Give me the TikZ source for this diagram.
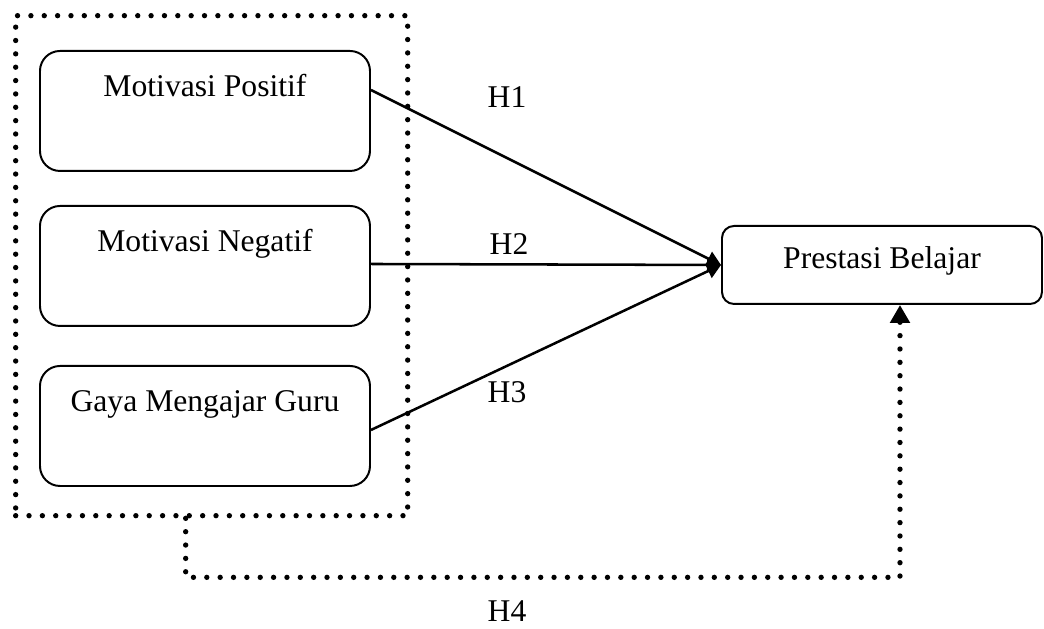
\documentclass[tikz,border=0pt]{standalone}
\usepackage{fontspec}
\setmainfont{Liberation Serif}
\usetikzlibrary{arrows.meta}

\begin{document}
\begin{tikzpicture}[every node/.style={font=\fontsize{22.5pt}{27pt}\selectfont, inner sep=0pt},
    var/.style={draw, line width=1.4pt, rounded corners=0.5cm, anchor=north west, minimum width=8.25cm, text height=1.15cm, text depth=1.85cm},
    conn/.style={line width=1.8pt, -{Triangle[length=0.35cm, width=0.38cm]}},
    dots/.style={line width=3.8pt, line cap=round, dash pattern=on 0pt off 9.5pt}]
      \useasboundingbox (0, 0) rectangle (26.1, 15.7);
      \node[draw, dots, anchor=north west, minimum width=9.8cm, minimum height=12.5cm] (grp) at (0.325, 15.375) {};
      \node[var] (mp) at (0.975, 14.45) {Motivasi Positif};
      \node[var] (mn) at (0.975, 10.575) {Motivasi Negatif};
      \node[var] (gm) at (0.975, 6.575) {Gaya Mengajar Guru};
      \node[draw, line width=1.4pt, rounded corners=0.3cm, anchor=north west, minimum width=8cm, text height=1.075cm, text depth=0.875cm] (pb) at (18.025, 10.075) {Prestasi Belajar};
      \draw[conn] ([yshift=0.525cm]mp.east) -- (pb.west);
      \draw[conn] ([yshift=0.05cm]mn.east) -- (pb.west);
      \draw[conn] ([yshift=-0.1cm]gm.east) -- (pb.west);
      \draw[dots, -{Triangle[length=0.45cm, width=0.48cm]}] ([xshift=-0.65cm]grp.south) -- ++(0, -1.475) -| ([xshift=0.45cm]pb.south);
      \node[anchor=base] (h1) at (12.675, 13.0) {H1};
      \node[anchor=base] (h2) at (12.725, 9.325) {H2};
      \node[anchor=base] (h3) at (12.675, 5.625) {H3};
      \node[anchor=base] (h4) at (12.675, 0.175) {H4};
\end{tikzpicture}
\end{document}
